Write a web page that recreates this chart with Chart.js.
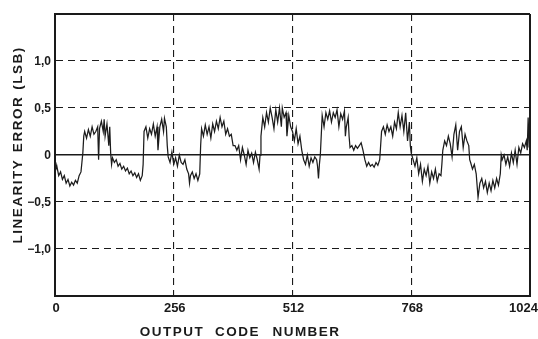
<!DOCTYPE html>
<html><head><meta charset="utf-8">
<script src="https://cdn.jsdelivr.net/npm/chart.js@4/dist/chart.umd.min.js"></script>
<style>html,body{margin:0;padding:0;background:#fff;overflow:hidden}canvas{display:block}</style>
</head><body>
<canvas id="c" width="538" height="339" style="width:538px;height:339px"></canvas>
<script>
// Output code numbers (x) and linearity error in LSB (y)
const codes = [0,2,4,8,12,16,20,24,28,32,36,40,44,48,52,56,58,60,62,
64,68,72,76,80,84,88,92,94,96,100,104,106,108,112,116,118,120,122,124,
128,132,136,140,144,148,152,156,160,164,168,172,176,180,184,188,190,
192,196,200,204,208,212,216,220,222,226,230,234,236,240,242,
244,248,252,256,260,264,268,272,276,280,284,288,290,292,296,300,304,308,312,
314,316,320,324,328,332,336,340,344,348,352,356,360,364,368,372,376,380,384,
388,392,396,400,404,408,412,416,420,424,428,432,436,440,442,
444,448,452,456,460,464,468,472,476,480,484,488,490,494,498,500,504,508,
512,516,520,524,528,532,
536,540,544,548,552,556,560,564,566,568,570,572,
576,580,584,588,592,596,600,604,608,612,616,620,624,626,628,632,634,
636,640,644,648,652,656,660,664,
668,672,676,680,684,688,692,696,700,
704,708,712,716,720,724,728,732,736,740,744,748,752,756,760,764,766,768,
772,776,780,784,788,792,796,800,804,808,812,816,820,824,828,832,834,
836,840,844,848,852,856,860,864,868,872,876,880,884,888,892,894,
896,900,904,908,912,916,920,924,928,932,936,940,944,948,952,956,960,962,
964,968,972,976,980,984,988,992,996,1000,1004,1008,1012,1016,1018,1020,1022,1024];
const errors = [-0.08,-0.15,-0.12,-0.22,-0.18,-0.26,-0.22,-0.3,-0.26,-0.33,-0.29,-0.32,-0.27,-0.3,-0.22,-0.18,-0.08,0.02,0.2,
0.25,0.18,0.27,0.2,0.3,0.22,0.25,0.3,-0.05,0.28,0.36,0.25,0.38,0.2,0.33,0.1,0.3,0.02,-0.1,-0.03,
-0.08,-0.05,-0.12,-0.09,-0.15,-0.12,-0.17,-0.14,-0.2,-0.17,-0.22,-0.19,-0.24,-0.2,-0.27,-0.22,-0.1,
0.25,0.3,0.18,0.28,0.22,0.33,0.2,0.3,0.05,0.3,0.38,0.25,0.39,0.3,0.1,
-0.02,-0.08,0.03,-0.1,-0.03,-0.12,0.0,-0.08,-0.1,-0.05,-0.15,-0.2,-0.3,-0.22,-0.18,-0.25,-0.2,-0.27,-0.2,
0.1,0.28,0.2,0.32,0.22,0.3,0.18,0.33,0.25,0.36,0.28,0.4,0.3,0.36,0.22,0.28,0.2,0.22,0.1,
0.1,0.05,0.1,-0.05,0.08,0.0,-0.1,0.05,-0.03,0.02,-0.08,0.03,-0.05,-0.15,0.0,
0.2,0.4,0.3,0.45,0.35,0.5,0.4,0.28,0.48,0.35,0.5,0.3,0.5,0.4,0.45,0.2,0.42,0.3,
0.25,0.15,0.28,0.12,0.2,0.05,
-0.05,-0.1,0.0,-0.12,-0.03,-0.08,-0.02,-0.05,-0.12,-0.25,-0.1,0.0,
0.42,0.3,0.45,0.38,0.47,0.35,0.45,0.4,0.48,0.3,0.44,0.38,0.47,0.2,0.3,0.4,0.2,
0.08,0.1,0.05,0.1,0.07,0.1,0.13,0.05,
-0.05,-0.12,-0.08,-0.12,-0.1,-0.13,-0.08,-0.11,-0.05,
0.25,0.3,0.22,0.32,0.25,0.3,0.2,0.35,0.28,0.45,0.3,0.42,0.25,0.45,0.15,0.35,0.1,0.02,
-0.05,-0.12,-0.03,-0.2,-0.1,-0.28,-0.15,-0.22,-0.12,-0.3,-0.18,-0.25,-0.15,-0.28,-0.2,-0.22,-0.1,
0.05,0.15,0.1,0.2,0.12,-0.02,0.22,0.32,0.05,0.25,0.3,0.08,0.22,0.15,0.1,-0.05,
-0.08,-0.15,-0.1,-0.2,-0.45,-0.3,-0.25,-0.35,-0.28,-0.4,-0.3,-0.38,-0.27,-0.35,-0.25,-0.32,-0.2,0.0,
-0.05,0.0,-0.1,-0.02,-0.12,0.02,-0.08,0.05,-0.1,0.08,0.02,0.12,0.08,0.15,0.05,0.4,0.1,0.12];

const xTickValues = [0, 256, 512, 768, 1024];
const xTickLabels = ['0', '256', '512', '768', '1024'];
const yTickValues = [1.0, 0.5, 0, -0.5, -1.0];
const yTickLabels = ['1,0', '0,5', '0', '\u22120,5', '\u22121,0'];
const xTitleWords = ['OUTPUT', 'CODE', 'NUMBER'];
const yTitleWords = ['LINEARITY', 'ERROR', '(LSB)'];

const points = codes.map((c, i) => ({x: c, y: errors[i]}));
const INK = '#1a1a1a';

const isEdgeY = v => Math.abs(Math.abs(v) - 1.5) < 1e-9;
const isEdgeX = v => v === 0 || v === 1024;

const textPlugin = {
  id: 'texts',
  beforeDraw(chart) {
    const ctx = chart.ctx;
    ctx.save();
    ctx.fillStyle = '#fff';
    ctx.fillRect(0, 0, chart.width, chart.height);
    ctx.restore();
  },
  afterDraw(chart) {
    const ctx = chart.ctx;
    const xs = chart.scales.x, ys = chart.scales.y, ca = chart.chartArea;
    ctx.save();
    ctx.fillStyle = INK;
    // y tick labels
    ctx.font = 'bold 12px "Liberation Sans", Arial, sans-serif';
    ctx.textAlign = 'right';
    ctx.textBaseline = 'middle';
    yTickValues.forEach((v, i) => {
      ctx.fillText(yTickLabels[i], ca.left - 4, ys.getPixelForValue(v) + 0.5);
    });
    // x tick labels
    ctx.font = 'bold 13px "Liberation Sans", Arial, sans-serif';
    ctx.textAlign = 'center';
    xTickValues.forEach((v, i) => {
      const w = ctx.measureText(xTickLabels[i]).width;
      let px = xs.getPixelForValue(v);
      px = Math.min(px, chart.width - 1 - w / 2);
      ctx.fillText(xTickLabels[i], px + 1, ca.bottom + 12);
    });
    // axis titles
    ctx.font = 'bold 13.5px "Liberation Sans", Arial, sans-serif';
    try { ctx.letterSpacing = '1.5px'; } catch (e) {}
    const xCenters = [172, 237.5, 306.5];
    xTitleWords.forEach((w, i) => ctx.fillText(w, xCenters[i], ca.bottom + 36));
    const yCenters = [201, 124, 68];
    yTitleWords.forEach((w, i) => {
      ctx.save();
      ctx.translate(18, yCenters[i]);
      ctx.rotate(-Math.PI / 2);
      ctx.fillText(w, 0, 0);
      ctx.restore();
    });
    ctx.restore();
  }
};

new Chart(document.getElementById('c'), {
  type: 'line',
  data: {
    datasets: [{
      data: points,
      borderColor: '#1c1c1c',
      borderWidth: 1.25,
      pointRadius: 0,
      tension: 0,
      fill: false
    }]
  },
  options: {
    responsive: false,
    animation: false,
    devicePixelRatio: 1,
    events: [],
    layout: { padding: { left: 55, right: 8, top: 14, bottom: 43 } },
    plugins: { legend: { display: false }, tooltip: { enabled: false }, title: { display: false } },
    scales: {
      x: {
        type: 'linear', min: 0, max: 1024,
        ticks: { display: false, stepSize: 256 },
        grid: {
          drawTicks: false, tickLength: 0,
          color: INK,
          lineWidth: c => (c.tick && isEdgeX(c.tick.value)) ? 2 : 1.1
        },
        border: {
          display: true, color: INK, width: 2,
          dash: c => (c.tick && !isEdgeX(c.tick.value)) ? [7, 5] : []
        }
      },
      y: {
        type: 'linear', min: -1.5, max: 1.5,
        ticks: { display: false, stepSize: 0.5 },
        grid: {
          drawTicks: false, tickLength: 0,
          color: INK,
          lineWidth: c => {
            if (!c.tick) return 1.1;
            if (isEdgeY(c.tick.value)) return 2;
            if (c.tick.value === 0) return 1.6;
            return 1.1;
          }
        },
        border: {
          display: true, color: INK, width: 2,
          dash: c => (c.tick && !isEdgeY(c.tick.value) && c.tick.value !== 0) ? [7, 5] : []
        }
      }
    }
  },
  plugins: [textPlugin]
});
</script>
</body></html>
